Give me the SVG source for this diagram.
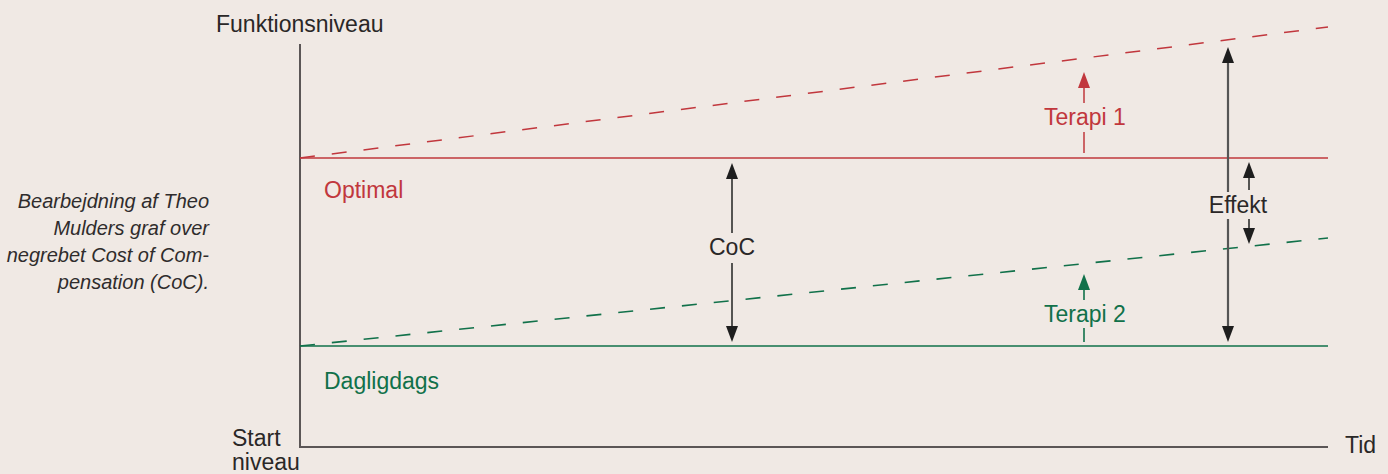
<svg xmlns="http://www.w3.org/2000/svg" width="1388" height="474" viewBox="0 0 1388 474">
<style>
text{font-family:"Liberation Sans",Arial,sans-serif;}
.lbl{font-size:23px;fill:#2a2727;}
.cap{font-size:20px;font-style:italic;fill:#2f2c2c;text-anchor:end;}
.red{fill:#c1373d;}
.grn{fill:#11714a;}
.axis{stroke:#5b5656;stroke-width:2;fill:none;}
.rl{stroke:#c1373d;stroke-width:1.5;fill:none;}
.gl{stroke:#11714a;stroke-width:1.6;fill:none;}
.dash{stroke-dasharray:15 17;}
.ak{stroke:#222;stroke-width:1.5;fill:none;}
.akb{stroke:#555;stroke-width:2.2;fill:none;}
</style>
<defs>
<marker id="ah-k" viewBox="0 0 16 12" refX="0" refY="6" markerWidth="16" markerHeight="12" markerUnits="userSpaceOnUse" orient="auto"><path d="M0,0 L16,6 L0,12 Z" fill="#1e1e1e"/></marker>
<marker id="ah-r" viewBox="0 0 16 12" refX="0" refY="6" markerWidth="16" markerHeight="12" markerUnits="userSpaceOnUse" orient="auto"><path d="M0,0 L16,6 L0,12 Z" fill="#c1373d"/></marker>
<marker id="ah-g" viewBox="0 0 16 12" refX="0" refY="6" markerWidth="16" markerHeight="12" markerUnits="userSpaceOnUse" orient="auto"><path d="M0,0 L16,6 L0,12 Z" fill="#11714a"/></marker>
</defs>
<rect width="1388" height="474" fill="#f0e9e4"/>

<g id="axes">
<path class="axis" d="M300,44 V447 H1328"/>
<text class="lbl" x="216" y="32" font-size="24">Funktionsniveau</text>
<text class="lbl" x="1345" y="453">Tid</text>
<text class="lbl" x="232" y="446" font-size="22">Start</text>
<text class="lbl" x="232" y="470" font-size="22">niveau</text>
</g>

<g id="caption">
<text class="cap" x="209" y="208">Bearbejdning af Theo</text>
<text class="cap" x="209" y="235">Mulders graf over</text>
<text class="cap" x="209" y="262">negrebet Cost of Com-</text>
<text class="cap" x="209" y="289">pensation (CoC).</text>
</g>

<g id="optimal">
<line class="rl" x1="300" y1="158" x2="1328" y2="158"/>
<text class="lbl red" x="324" y="198">Optimal</text>
</g>
<g id="terapi1-line">
<line class="rl dash" x1="300" y1="158" x2="1328" y2="27"/>
</g>
<g id="dagligdags">
<line class="gl" x1="300" y1="346" x2="1328" y2="346"/>
<text class="lbl grn" x="324" y="389">Dagligdags</text>
</g>
<g id="terapi2-line">
<line class="gl dash" x1="300" y1="346" x2="1328" y2="238"/>
</g>

<g id="connectors">
<line class="rl" x1="1084" y1="153" x2="1084" y2="132"/>
<line class="rl" x1="1084" y1="103" x2="1084" y2="88" marker-end="url(#ah-r)"/>
<line class="gl" x1="1084" y1="342" x2="1084" y2="328"/>
<line class="gl" x1="1084" y1="300" x2="1084" y2="290" marker-end="url(#ah-g)"/>
<line class="ak" x1="732" y1="233" x2="732" y2="179" marker-end="url(#ah-k)"/>
<line class="ak" x1="732" y1="263" x2="732" y2="326" marker-end="url(#ah-k)"/>
<line class="akb" x1="1228" y1="192" x2="1228" y2="63" marker-end="url(#ah-k)"/>
<line class="akb" x1="1228" y1="219" x2="1228" y2="326" marker-end="url(#ah-k)"/>
<line class="ak" x1="1249" y1="190" x2="1249" y2="178" marker-end="url(#ah-k)"/>
<line class="ak" x1="1249" y1="219" x2="1249" y2="228" marker-end="url(#ah-k)"/>
</g>

<g id="labels">
<text class="lbl red" x="1085" y="125" text-anchor="middle">Terapi 1</text>
<text class="lbl grn" x="1085" y="322" text-anchor="middle">Terapi 2</text>
<text class="lbl" x="732" y="255" text-anchor="middle">CoC</text>
<text class="lbl" x="1238" y="213" text-anchor="middle">Effekt</text>
</g>
</svg>
